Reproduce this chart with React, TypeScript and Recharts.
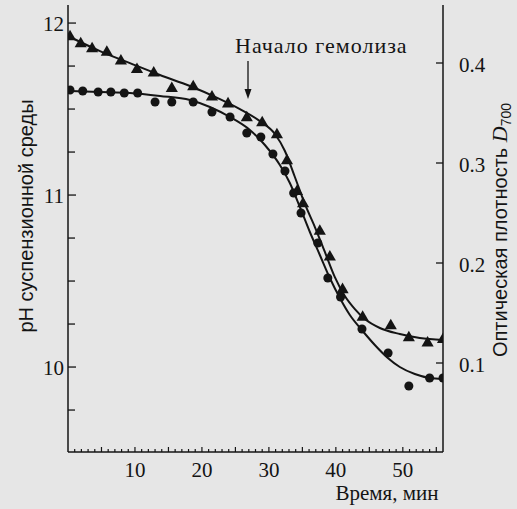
import React from "react";
import {
  ComposedChart,
  Line,
  Scatter,
  XAxis,
  YAxis,
  Customized,
} from "recharts";

// ---- Data ----
// Triangles: pH of the suspension medium (left axis)
const triTime = [0.3, 1.9, 3.6, 5.8, 7.9, 10.3, 12.8, 15.5, 18.7, 21.5, 23.9, 26.7, 29.0, 31.2, 32.7, 34.2, 35.1, 37.6, 39.1, 41.0, 44.0, 48.2, 50.9, 53.7, 56.0];
const triPH = [11.92, 11.88, 11.85, 11.83, 11.78, 11.73, 11.71, 11.62, 11.63, 11.57, 11.53, 11.45, 11.42, 11.35, 11.2, 11.02, 10.95, 10.79, 10.64, 10.45, 10.29, 10.24, 10.17, 10.14, 10.16];

// Circles: optical density D700 (right axis)
const circTime = [0.3, 2.2, 4.5, 6.4, 8.4, 10.4, 13.0, 15.5, 18.7, 21.5, 24.2, 26.7, 28.8, 30.6, 32.4, 33.7, 34.8, 37.3, 38.8, 40.7, 43.9, 47.8, 50.9, 54.0, 56.0];
const circD = [0.373, 0.372, 0.371, 0.371, 0.37, 0.37, 0.361, 0.361, 0.361, 0.351, 0.346, 0.33, 0.326, 0.309, 0.292, 0.27, 0.25, 0.22, 0.185, 0.166, 0.134, 0.11, 0.077, 0.085, 0.085];

// Fitted curves
const triFitTime = [0.3, 4.78, 9.25, 13.73, 18.21, 22.69, 25.67, 28.66, 30.9, 32.39, 33.88, 35.37, 36.87, 38.36, 39.85, 41.34, 42.84, 44.33, 46.57, 49.55, 52.54, 56.0];
const triFitPH = [11.919, 11.837, 11.767, 11.698, 11.634, 11.558, 11.5, 11.43, 11.355, 11.256, 11.105, 10.948, 10.814, 10.669, 10.523, 10.413, 10.337, 10.279, 10.227, 10.192, 10.169, 10.157];

const circFitTime = [0.3, 4.78, 9.25, 13.73, 18.21, 21.19, 24.18, 27.16, 29.4, 31.64, 33.13, 34.63, 36.12, 37.61, 39.1, 40.6, 42.09, 43.88, 45.82, 47.76, 49.55, 51.79, 54.03, 56.0];
const circFitD = [0.372, 0.371, 0.37, 0.367, 0.363, 0.356, 0.346, 0.333, 0.318, 0.298, 0.28, 0.256, 0.231, 0.208, 0.185, 0.165, 0.148, 0.133, 0.118, 0.105, 0.096, 0.089, 0.085, 0.084];

// Axis ticks
const xTicks = Array.from({ length: 55 }, (_, i) => i + 1);
const xLabels = [10, 20, 30, 40, 50];
const phTicks = [9.75, 10, 10.25, 10.5, 10.75, 11, 11.25, 11.5, 11.75, 12];
const phLabels = [10, 11, 12];
const dTicks = [0.1, 0.2, 0.3, 0.4];

const triPoints = triTime.map((t, i) => ({ t, ph: triPH[i] }));
const circPoints = circTime.map((t, i) => ({ t, d: circD[i] }));
const triFit = triFitTime.map((t, i) => ({ t, ph: triFitPH[i] }));
const circFit = circFitTime.map((t, i) => ({ t, d: circFitD[i] }));

const INK = "#141414";
const SERIF_STYLE = {
  fontFamily:
    '"Liberation Serif", Tinos, "Times New Roman", Times, "Noto Serif", "DejaVu Serif", FreeSerif, "Nimbus Roman", Georgia, serif',
};
const SANS_STYLE = { fontFamily: '"Liberation Sans", Arimo, Arial, "DejaVu Sans", sans-serif' };

const LeftTick = (props: any) => {
  const { x, y, payload } = props;
  const v = payload.value;
  const major = phLabels.includes(v);
  return (
    <g>
      <line x1={x} x2={x + (major ? 8 : 7)} y1={y} y2={y} stroke={INK} strokeWidth={1.3} />
      {major && (
        <text x={x - 4} y={y + 7.5} textAnchor="end" style={SERIF_STYLE} fontSize={21} fill={INK}>
          {v}
        </text>
      )}
    </g>
  );
};

const RightTick = (props: any) => {
  const { x, y, payload } = props;
  const v = payload.value;
  return (
    <g>
      <line x1={x} x2={x - 7} y1={y} y2={y} stroke={INK} strokeWidth={1.3} />
      <text x={x + 16} y={y + 8.5} textAnchor="start" style={SERIF_STYLE} fontSize={21} fill={INK}>
        {v.toFixed(1)}
      </text>
    </g>
  );
};

const BottomTick = (props: any) => {
  const { x, y, payload } = props;
  const v = payload.value;
  const major = v % 5 === 0;
  return (
    <g>
      <line x1={x} x2={x} y1={y} y2={y - (major ? 5 : 3)} stroke={INK} strokeWidth={1.2} />
      {xLabels.includes(v) && (
        <text x={x} y={y + 25} textAnchor="middle" style={SERIF_STYLE} fontSize={21} fill={INK}>
          {v}
        </text>
      )}
    </g>
  );
};

const Annotations = () => (
  <g>
    <text x={235} y={53} style={SERIF_STYLE} fontSize={22} letterSpacing={1} fill={INK}>
      Начало гемолиза
    </text>
    <line x1={248} x2={248} y1={61} y2={92} stroke={INK} strokeWidth={1.3} />
    <polygon points="244.5,89 251.5,89 248,99" fill={INK} />
    <text x={387} y={500} textAnchor="middle" style={SERIF_STYLE} fontSize={21} fill={INK}>
      Время, мин
    </text>
    <text
      transform="translate(33,216) rotate(-90)"
      textAnchor="middle"
      style={SANS_STYLE}
      fontSize={20}
      fill={INK}
    >
      pH суспензионной среды
    </text>
    <text
      transform="translate(507,230) rotate(-90)"
      textAnchor="middle"
      style={SANS_STYLE}
      fontSize={20}
      fill={INK}
    >
      Оптическая плотность{" "}
      <tspan style={SERIF_STYLE} fontStyle="italic" fontSize={22}>
        D
      </tspan>
      <tspan fontSize={14} dy={4}>
        700
      </tspan>
    </text>
  </g>
);

export default function App() {
  return (
    <div
      style={{
        position: "absolute",
        left: 0,
        top: 0,
        width: 517,
        height: 509,
        background: "#e6e6e6",
      }}
    >
      <ComposedChart
        width={517}
        height={509}
        margin={{ top: 5, right: 14, bottom: 7, left: 8 }}
      >
        <XAxis
          xAxisId="x"
          dataKey="t"
          type="number"
          domain={[0, 56]}
          ticks={xTicks}
          interval={0}
          allowDataOverflow
          height={50}
          tickSize={0}
          tickMargin={0}
          tick={<BottomTick />}
          axisLine={{ stroke: INK, strokeWidth: 1.5 }}
          tickLine={false}
        />
        <YAxis
          yAxisId="ph"
          orientation="left"
          type="number"
          domain={[9.506, 12.105]}
          ticks={phTicks}
          interval={0}
          allowDataOverflow
          width={60}
          tickSize={0}
          tickMargin={0}
          tick={<LeftTick />}
          axisLine={{ stroke: INK, strokeWidth: 1.5 }}
          tickLine={false}
        />
        <YAxis
          yAxisId="d"
          orientation="right"
          type="number"
          domain={[0.011, 0.458]}
          ticks={dTicks}
          interval={0}
          allowDataOverflow
          width={60}
          tickSize={0}
          tickMargin={0}
          tick={<RightTick />}
          axisLine={{ stroke: INK, strokeWidth: 1.5 }}
          tickLine={false}
        />
        <Line
          xAxisId="x"
          yAxisId="ph"
          data={triFit}
          dataKey="ph"
          type="monotone"
          stroke={INK}
          strokeWidth={2}
          dot={false}
          activeDot={false}
          isAnimationActive={false}
        />
        <Line
          xAxisId="x"
          yAxisId="d"
          data={circFit}
          dataKey="d"
          type="monotone"
          stroke={INK}
          strokeWidth={2}
          dot={false}
          activeDot={false}
          isAnimationActive={false}
        />
        <Scatter
          xAxisId="x"
          yAxisId="ph"
          data={triPoints}
          dataKey="ph"
          shape="triangle"
          fill={INK}
          isAnimationActive={false}
          legendType="none"
          size={120}
        />
        <Scatter
          xAxisId="x"
          yAxisId="d"
          data={circPoints}
          dataKey="d"
          shape="circle"
          fill={INK}
          isAnimationActive={false}
          legendType="none"
          size={100}
        />
        <Customized component={Annotations} />
      </ComposedChart>
    </div>
  );
}
